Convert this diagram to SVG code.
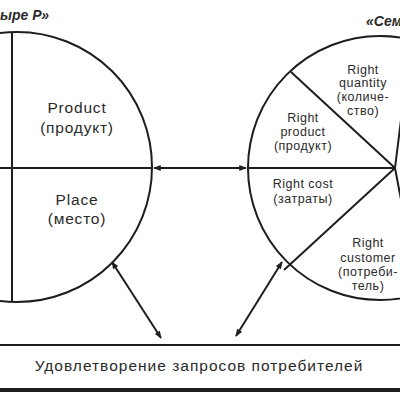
<svg xmlns="http://www.w3.org/2000/svg" width="400" height="400" viewBox="0 0 400 400">
<defs>
<style>
.ln{fill:none;stroke:#1e1e1e;stroke-width:2}
.t{font-family:"Liberation Sans",Arial,sans-serif;fill:#2a2a2a;text-anchor:middle}
.m{font-size:15.5px;letter-spacing:0.8px}
.s{font-size:12.5px;letter-spacing:0.5px}
.b{font-size:15.5px;letter-spacing:1px}
.h{font-size:14px;font-weight:bold;font-style:italic}
</style>
<marker id="ah" viewBox="0 0 10 8" refX="9" refY="4" markerWidth="9" markerHeight="6" orient="auto-start-reverse" markerUnits="userSpaceOnUse">
<path d="M0,0 L10,4 L0,8 Z" fill="#1e1e1e"/>
</marker>
</defs>
<rect width="400" height="400" fill="#fff"/>
<text class="t h" x="0" y="20" style="text-anchor:start">ыре Р»</text>
<text class="t h" x="366" y="26" style="text-anchor:start">«Сем</text>
<g id="four-p">
<circle class="ln" cx="17" cy="167" r="135"/>
<line class="ln" x1="12" y1="32" x2="12" y2="302"/>
<line class="ln" x1="0" y1="168" x2="152" y2="168"/>
<text class="t m" x="77" y="113">Product</text>
<text class="t m" x="77" y="133">(продукт)</text>
<text class="t m" x="77" y="205">Place</text>
<text class="t m" x="77" y="224">(место)</text>
</g>
<g id="seven-r">
<circle class="ln" cx="380" cy="168" r="132"/>
<line class="ln" x1="248" y1="168" x2="395" y2="168"/>
<line class="ln" x1="291" y1="72" x2="395" y2="168"/>
<line class="ln" x1="284" y1="270" x2="395" y2="168"/>
<line class="ln" x1="395" y1="168" x2="402" y2="112"/>
<line class="ln" x1="395" y1="168" x2="402" y2="205"/>
<text class="t s" x="363" y="74">Right</text>
<text class="t s" x="363" y="87">quantity</text>
<text class="t s" x="363" y="101">(количе-</text>
<text class="t s" x="363" y="115">ство)</text>
<text class="t s" x="303" y="122">Right</text>
<text class="t s" x="303" y="136">product</text>
<text class="t s" x="303" y="150">(продукт)</text>
<text class="t s" x="303" y="188">Right cost</text>
<text class="t s" x="303" y="203">(затраты)</text>
<text class="t s" x="368" y="247">Right</text>
<text class="t s" x="368" y="262">customer</text>
<text class="t s" x="368" y="276">(потреби-</text>
<text class="t s" x="368" y="290">тель)</text>
</g>
<g id="result">
<line class="ln" x1="0" y1="345" x2="400" y2="345"/>
<text class="t b" x="199" y="371">Удовлетворение запросов потребителей</text>
<line x1="0" y1="390" x2="400" y2="390" stroke="#1e1e1e" stroke-width="4"/>
</g>
<g id="connectors">
<line class="ln" x1="154" y1="168" x2="246" y2="168" stroke-width="2.5" marker-start="url(#ah)" marker-end="url(#ah)"/>
<line class="ln" x1="112" y1="262" x2="161" y2="338" marker-start="url(#ah)" marker-end="url(#ah)"/>
<line class="ln" x1="282" y1="262" x2="236" y2="336" marker-start="url(#ah)" marker-end="url(#ah)"/>
</g>
</svg>
